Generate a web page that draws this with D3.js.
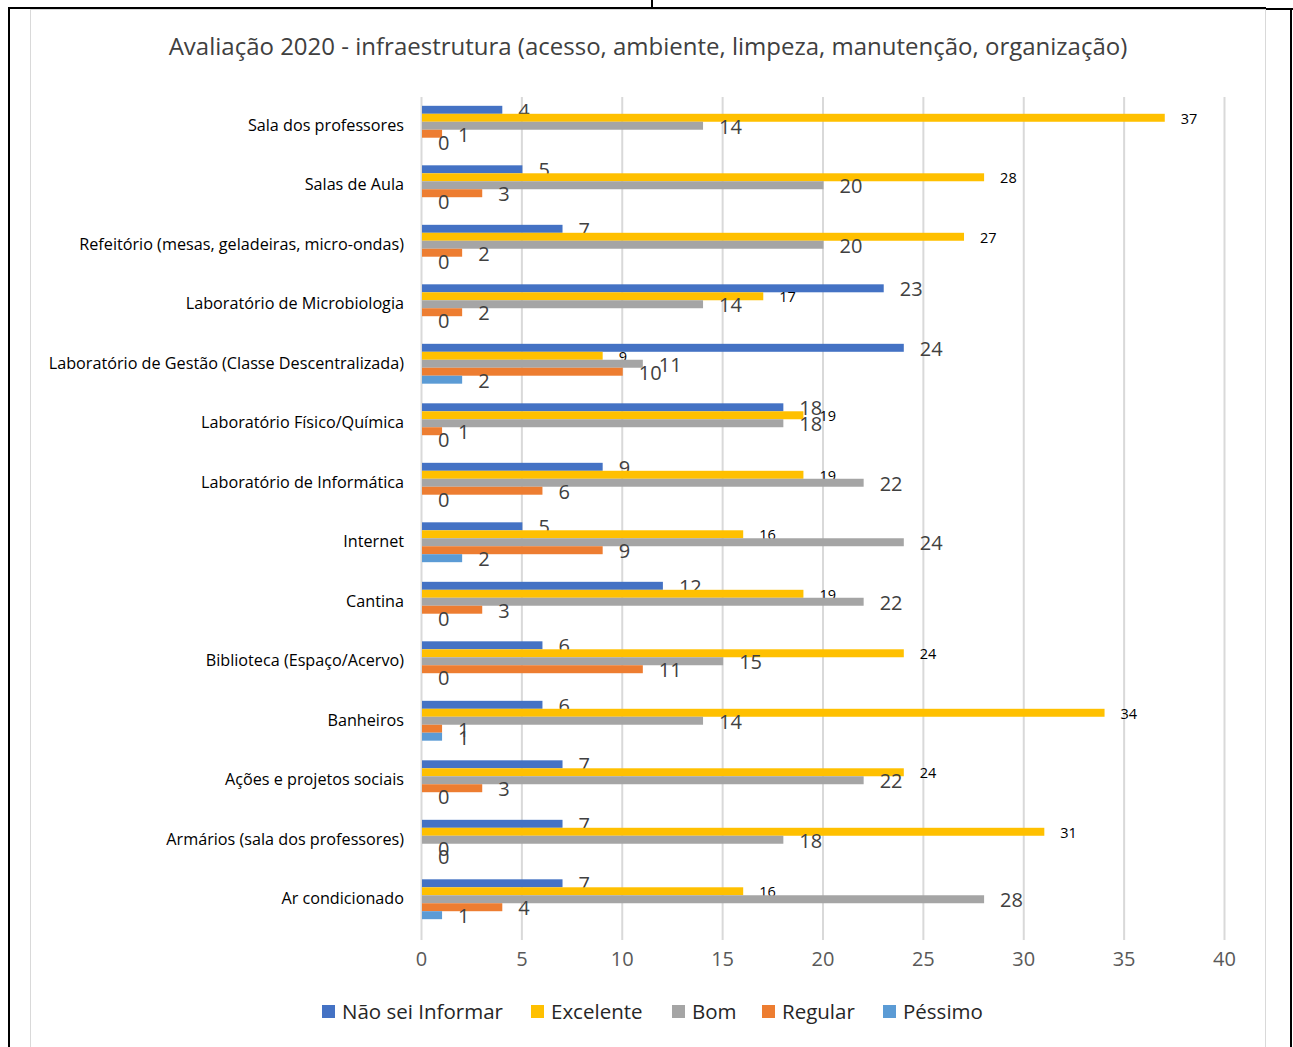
<!DOCTYPE html>
<html>
<head>
<meta charset="utf-8">
<script src="https://cdn.jsdelivr.net/npm/d3@7"></script>
<style>
  body { margin: 0; background: #fff; }
  svg { display: block; font-family: "Open Sans", "Noto Sans", sans-serif; }
</style>
</head>
<body>
<div id="chart"></div>
<script>
(function() {

// categories, top to bottom as shown
const categories = [
	"Sala dos professores",
	"Salas de Aula",
	"Refeitório (mesas, geladeiras, micro-ondas)",
	"Laboratório de Microbiologia",
	"Laboratório de Gestão (Classe Descentralizada)",
	"Laboratório Físico/Química",
	"Laboratório de Informática",
	"Internet",
	"Cantina",
	"Biblioteca (Espaço/Acervo)",
	"Banheiros",
	"Ações e projetos sociais",
	"Armários (sala dos professores)",
	"Ar condicionado"
];

const seriesNames = ["Não sei Informar", "Excelente", "Bom", "Regular", "Péssimo"];
const seriesColors = ["#4472C4", "#FFC000", "#A5A5A5", "#ED7D31", "#5B9BD5"];

const naoSei    = [4, 5, 7, 23, 24, 18, 9, 5, 12, 6, 6, 7, 7, 7];
const excelente = [37, 28, 27, 17, 9, 19, 19, 16, 19, 24, 34, 24, 31, 16];
const bom       = [14, 20, 20, 14, 11, 18, 22, 24, 22, 15, 14, 22, 18, 28];
const regular   = [1, 3, 2, 2, 10, 1, 6, 9, 3, 11, 1, 3, 0, 4];
const pessimo   = [0, 0, 0, 0, 2, 0, 0, 2, 0, 0, 1, 0, 0, 1];

const xTicks = [0, 5, 10, 15, 20, 25, 30, 35, 40];

const allSeries = [naoSei, excelente, bom, regular, pessimo];

const width = 1293, height = 1047;

const svg = d3.select("#chart").append("svg")
	.attr("width", width)
	.attr("height", height);

// page table lines around the chart
const page = svg.append("g").attr("stroke", "#000").attr("stroke-width", 2);
page.append("line").attr("x1", 8).attr("x2", 1266).attr("y1", 8).attr("y2", 8);
page.append("line").attr("x1", 1266).attr("x2", 1293).attr("y1", 9).attr("y2", 9);
page.append("line").attr("x1", 9).attr("x2", 9).attr("y1", 7).attr("y2", height);
page.append("line").attr("x1", 1291).attr("x2", 1291).attr("y1", 8).attr("y2", height);
page.append("line").attr("x1", 652).attr("x2", 652).attr("y1", 0).attr("y2", 8);

// chart frame
svg.append("rect")
	.attr("x", 30.5).attr("y", 9.5)
	.attr("width", 1235).attr("height", height)
	.attr("fill", "#fff")
	.attr("stroke", "#d9d9d9");

svg.append("text")
	.attr("x", 648).attr("y", 55)
	.attr("text-anchor", "middle")
	.attr("fill", "#404040")
	.attr("font-size", 24)
	.text("Avaliação 2020 - infraestrutura (acesso, ambiente, limpeza, manutenção, organização)");

const x = d3.scaleLinear().domain([0, 40]).range([421, 1224]);

const y = d3.scaleBand()
	.domain(categories)
	.range([96, 929])
	.paddingInner(0.33)
	.paddingOuter(0.165);

const ySub = d3.scaleBand()
	.domain(d3.range(seriesNames.length))
	.range([0, y.bandwidth()]);

// grid
svg.append("g")
	.selectAll("line")
	.data(xTicks)
	.join("line")
	.attr("x1", d => x(d) + 0.5).attr("x2", d => x(d) + 0.5)
	.attr("y1", 97).attr("y2", 940)
	.attr("stroke", "#d9d9d9")
	.attr("stroke-width", 2);

// x axis labels
const xAxis = svg.append("g")
	.attr("transform", "translate(0,943)")
	.call(d3.axisBottom(x).tickValues(xTicks).tickSize(0).tickPadding(9));
xAxis.select(".domain").remove();
xAxis.selectAll("text")
	.attr("font-family", "\"Open Sans\", sans-serif")
	.attr("font-size", 20)
	.attr("fill", "#595959");

// category labels
const yAxis = svg.append("g")
	.attr("transform", "translate(404,0)")
	.call(d3.axisLeft(y).tickSize(0).tickPadding(0));
yAxis.select(".domain").remove();
yAxis.selectAll("text")
	.attr("font-family", "\"Open Sans\", sans-serif")
	.attr("font-size", 16.2)
	.attr("fill", "#000");

// bars
const groups = svg.append("g")
	.selectAll("g")
	.data(categories)
	.join("g")
	.attr("transform", d => "translate(0," + y(d) + ")");

groups.each(function(cat, ci) {
	const g = d3.select(this);
	allSeries.forEach(function(vals, si) {
		const v = vals[ci];
		g.append("rect")
			.attr("x", x(0) + 1)
			.attr("y", ySub(si))
			.attr("width", x(v) - x(0))
			.attr("height", ySub.bandwidth())
			.attr("fill", seriesColors[si]);
		const small = si === 1;
		g.append("text")
			.attr("x", x(v) + 17)
			.attr("y", ySub(si) + ySub.bandwidth() / 2 + 1)
			.attr("dy", "0.35em")
			.attr("font-size", small ? 14.5 : 20)
			.attr("fill", small ? "#000" : "#404040")
			.text(v);
	});
});

// legend
const legendX = [322, 531, 672, 762, 883];
const legend = svg.append("g")
	.selectAll("g")
	.data(seriesNames)
	.join("g")
	.attr("transform", (d, i) => "translate(" + legendX[i] + ",1005)");
legend.append("rect")
	.attr("width", 13).attr("height", 13)
	.attr("fill", (d, i) => seriesColors[i]);
legend.append("text")
	.attr("x", 20).attr("y", 7)
	.attr("dy", "0.35em")
	.attr("font-size", 20.5)
	.attr("fill", "#262626")
	.text(d => d);

})();
</script>
</body>
</html>
